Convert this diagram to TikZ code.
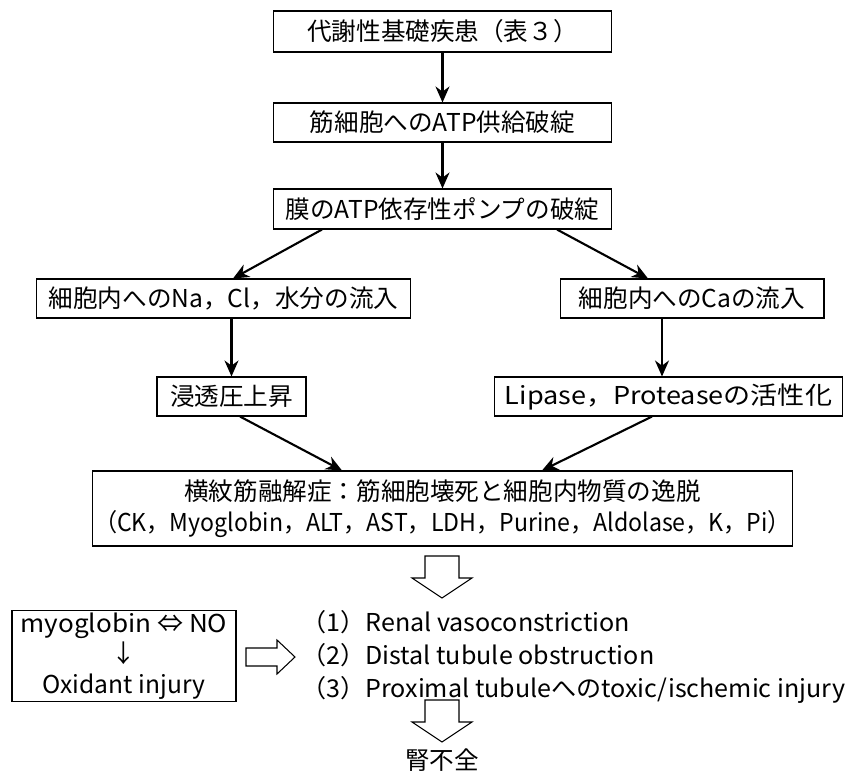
\documentclass[tikz,border=0pt]{standalone}
\usepackage{fontspec}
\setmainfont{Noto Sans CJK JP}
\usepackage{tikz}
\usetikzlibrary{arrows.meta, positioning}
\newcommand{\hsq}[2]{\scalebox{#1}[1]{#2}}
\tikzstyle{block} = [rectangle, draw=black, line width=0.6pt, minimum height=0.78cm, inner sep=1pt, text centered, font=\fontsize{14}{18}\selectfont]
\tikzstyle{arrow} = [line width=1.2pt, -{Stealth[length=3.2mm, width=2.8mm]}]
\tikzstyle{hollow} = [draw=black, line width=0.6pt, line join=miter, fill=white]

\begin{document}
\begin{tikzpicture}[x=0.02cm, y=-0.02cm]
\useasboundingbox (0,0) rectangle (850,775);

% main chain
\node (disease) [block, minimum width=6.78cm, minimum height=0.82cm] at (442.5,31.5) {代謝性基礎疾患（表３）};
\node (supply) [block, minimum width=6.78cm] at (442.5,122.5) {筋細胞へのATP供給破綻};
\node (pump) [block, minimum width=6.78cm, minimum height=0.8cm] at (442.5,209) {膜のATP依存性ポンプの破綻};

% two branches
\node (naflow) [block, minimum width=7.5cm] at (223.5,298.5) {細胞内へのNa，Cl，水分の流入};
\node (caflow) [block, minimum width=5.28cm] at (692,298.5) {細胞内へのCaの流入};
\node (osmo) [block, minimum width=2.98cm] at (231.5,396.5) {浸透圧上昇};
\node (lipase) [block, minimum width=6.98cm] at (668.5,396.5) {\hsq{1.1}{Lipase，Proteaseの活性化}};

\node (rhabdo) [block, minimum width=13.98cm, minimum height=1.5cm, align=center] at (442.5,508.5)
  {横紋筋融解症：筋細胞壊死と細胞内物質の逸脱\\[-0.5pt]\hsq{0.94}{（CK，Myoglobin，ALT，AST，LDH，Purine，Aldolase，K，Pi）}};

% renal part
\node (oxid) [block, minimum width=4.48cm, minimum height=1.76cm, align=center, font=\fontsize{14}{17.5}\selectfont] at (124,656)
  {\hsq{1.06}{myoglobin ⇔ NO}\\↓\\Oxidant injury};
\node (causes) [anchor=west, align=left, inner sep=0pt, font=\fontsize{14}{18.8}\selectfont] at (301,657)
  {\hsq{1.02}{（1）Renal vasoconstriction}\\\hsq{1.02}{（2）Distal tubule obstruction}\\\hsq{1.02}{（3）Proximal tubuleへのtoxic/ischemic injury}};
\node (failure) [font=\fontsize{14}{18}\selectfont] at (442,760) {腎不全};

% hollow arrows
\coordinate (down1) at (442,556);
\coordinate (down2) at (442,700);
\coordinate (right1) at (246,657);
\foreach \c in {down1, down2}
  \draw [hollow] (\c) ++(-17,0) -- ++(0,22) -- ++(-13,0) -- ++(30,20) -- ++(30,-20) -- ++(-13,0) -- ++(0,-22) -- cycle;
\draw [hollow] (right1) ++(0,-9) -- ++(31,0) -- ++(0,-8) -- ++(18,17) -- ++(-18,17) -- ++(0,-8) -- ++(-31,0) -- cycle;

% arrows
\draw [arrow] (disease) -- (supply);
\draw [arrow] (supply) -- (pump);
\draw [arrow] (pump.south -| 322,0) -- (naflow.north -| 233,0);
\draw [arrow] (pump.south -| 557,0) -- (caflow.north -| 648,0);
\draw [arrow] (naflow.south -| osmo) -- (osmo);
\draw [arrow] (caflow.south -| 662,0) -- (lipase.north -| 662,0);
\draw [arrow] (osmo.south -| 240,0) -- (rhabdo.north -| 342,0);
\draw [arrow] (lipase.south -| 652,0) -- (rhabdo.north -| 542,0);

\end{tikzpicture}
\end{document}
